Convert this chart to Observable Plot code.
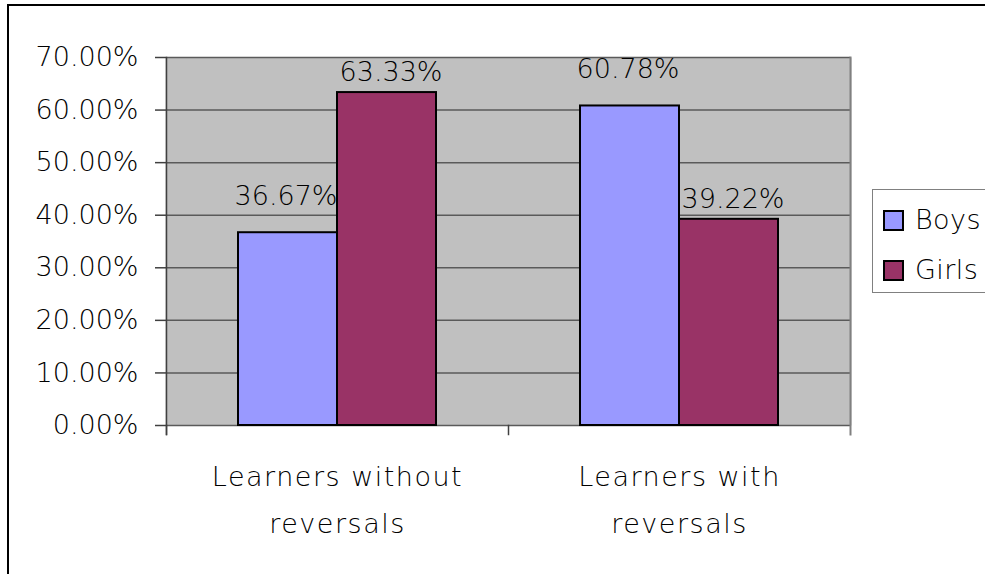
<!DOCTYPE html>
<html>
<head>
<meta charset="utf-8">
<script src="https://cdn.jsdelivr.net/npm/d3@7"></script>
<script src="https://cdn.jsdelivr.net/npm/@observablehq/plot@0.6"></script>
<style>
  html, body { margin: 0; padding: 0; background: #fff; overflow: hidden; width: 985px; height: 574px; }
  #wrap { position: relative; width: 985px; height: 574px; overflow: hidden; }
  #wrap svg { position: absolute; left: 0; top: 0; }
  #wrap svg g[aria-label="fx-axis tick label"] text { letter-spacing: 1.5px; }
  #border { position: absolute; left: 7px; top: 4px; width: 1200px; height: 900px; border: 2px solid #000; pointer-events: none; }
  #legend { position: absolute; left: 872px; top: 189px; width: 130px; height: 102px; border: 1px solid #808080; background: #fff; }
  #legend .row { position: absolute; left: 10px; display: flex; align-items: center; }
  #legend .sw { width: 21px; height: 21px; box-sizing: border-box; border: 2px solid #000; margin-right: 11px; }
  #legend .lab { font-size: 27px; line-height: 28px; color: #000; letter-spacing: 0.4px; }
</style>
</head>
<body>
<div id="wrap">
  <div id="chart"></div>
  <div id="legend"></div>
  <div id="border"></div>
</div>
<script>
// Share of boys and girls among learners with and without letter reversals
const categories = ["Learners without reversals", "Learners with reversals"];
const seriesNames = ["Boys", "Girls"];
const boys = [36.67, 60.78];
const girls = [63.33, 39.22];
const seriesColors = ["#9999FF", "#993366"];
const yTicks = [0, 10, 20, 30, 40, 50, 60, 70];

const FONT = "'DejaVu Sans', sans-serif";
const FONT_SIZE = 27;
const FONT_WEIGHT = 200;

const rows = categories.flatMap((category, i) => [
  {category, series: seriesNames[0], value: boys[i]},
  {category, series: seriesNames[1], value: girls[i]}
]);

const pct = (v) => v.toFixed(2) + "%";

const W = 985, H = 574;
const mL = 165, mR = 135, mT = 57, mB = 149;
const plotH = H - mT - mB;

const chart = Plot.plot({
  width: W,
  height: H,
  marginLeft: mL,
  marginRight: mR,
  marginTop: mT,
  marginBottom: mB,
  style: {fontFamily: FONT, fontSize: FONT_SIZE + "px", fontWeight: FONT_WEIGHT, background: "transparent", color: "#000"},
  fx: {domain: categories, padding: 0, label: null, axis: null},
  x: {domain: seriesNames, paddingInner: 0, paddingOuter: 0.72, axis: null, label: null},
  y: {domain: [0, 70], axis: null, label: null},
  color: {domain: seriesNames, range: seriesColors},
  marks: [
    // grey plot area (slight overlap so the two category panels join without a seam) and gridlines
    Plot.frame({fill: "#C0C0C0", stroke: "none", insetLeft: -1, insetRight: -1}),
    Plot.ruleY(yTicks, {stroke: "#5a5a5a", strokeWidth: 1.5}),
    // value axis line and right border of the plot area
    Plot.frame({anchor: "left", facetAnchor: "left", stroke: "#404040", strokeWidth: 1.5, insetBottom: -9}),
    Plot.frame({anchor: "right", facetAnchor: "right", stroke: "#808080", strokeWidth: 2, insetBottom: -9}),
    // category boundary ticks
    Plot.frame({anchor: "left", stroke: "#404040", strokeWidth: 1.5, insetTop: plotH, insetBottom: -9}),
    // bars
    Plot.barY(rows, {fx: "category", x: "series", y: "value", fill: "series", stroke: "#000", strokeWidth: 2}),
    // value labels
    Plot.text(rows, {
      filter: (d) => d.series === seriesNames[0],
      fx: "category", x: "series", y: "value", text: (d) => pct(d.value),
      lineAnchor: "bottom", dy: -28, dx: -2, fontSize: FONT_SIZE, fill: "#000"
    }),
    Plot.text(rows, {
      filter: (d) => d.series === seriesNames[1],
      fx: "category", x: "series", y: "value", text: (d) => pct(d.value),
      lineAnchor: "bottom", dy: -11.5, dx: 4, fontSize: FONT_SIZE, fill: "#000"
    }),
    // axes
    Plot.axisY(yTicks, {
      tickSize: 11, tickPadding: 17, tickFormat: pct, fontSize: FONT_SIZE,
      stroke: "#404040", strokeWidth: 1.5, fill: "#000", label: null
    }),
    Plot.axisFx({
      anchor: "bottom", tickSize: 0, tickPadding: 28, fontSize: FONT_SIZE, lineHeight: 1.72,
      tickFormat: (d) => d.replace(/ (\S+)$/, "\n$1"), fill: "#000", label: null
    })
  ]
});

document.getElementById("chart").appendChild(chart);

// legend built from the chart's colour scale
const colorScale = chart.scale("color");
const legend = document.getElementById("legend");
colorScale.domain.forEach((name, i) => {
  const row = document.createElement("div");
  row.className = "row";
  row.style.top = (16 + i * 50) + "px";
  const sw = document.createElement("div");
  sw.className = "sw";
  sw.style.background = colorScale.range[i];
  const lab = document.createElement("div");
  lab.className = "lab";
  lab.style.fontFamily = FONT;
  lab.style.fontWeight = FONT_WEIGHT;
  lab.textContent = name;
  row.appendChild(sw);
  row.appendChild(lab);
  legend.appendChild(row);
});
</script>
</body>
</html>
